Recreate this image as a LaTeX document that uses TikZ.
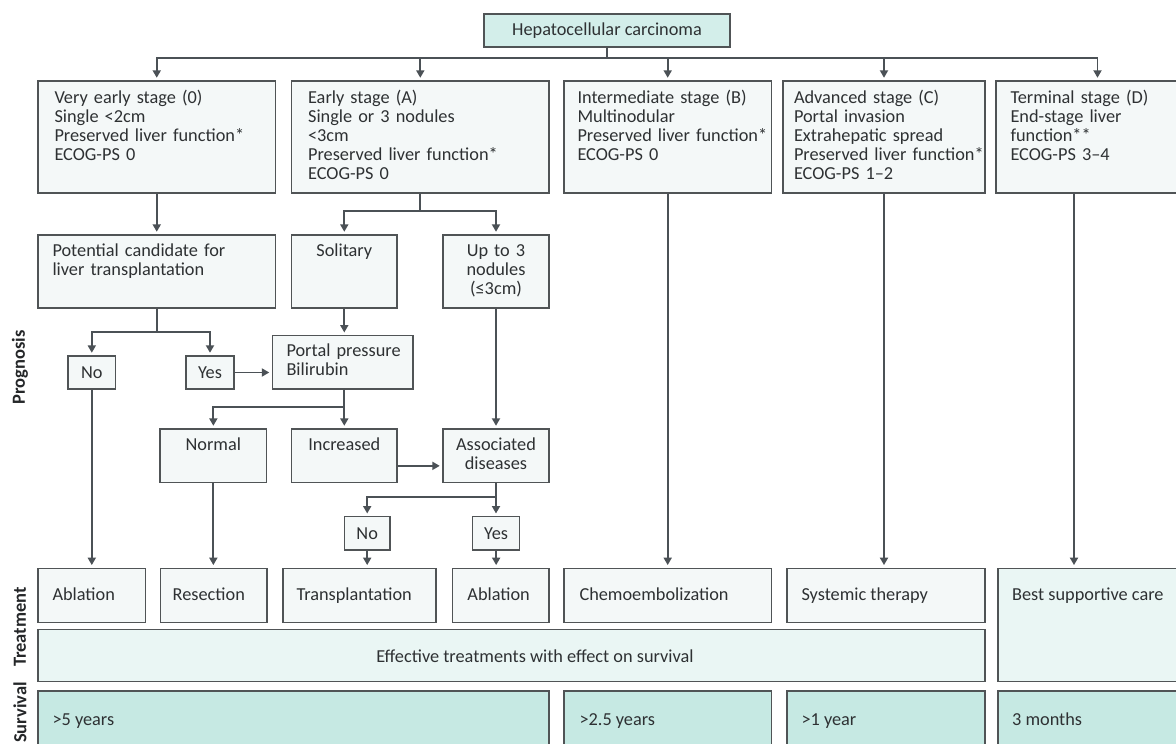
\documentclass[tikz,border=0pt]{standalone}
\usepackage{fontspec}
\setmainfont{Carlito}
\usetikzlibrary{arrows.meta,calc}
\definecolor{topfill}{HTML}{D3EEEA}
\definecolor{lightfill}{HTML}{F4F8F8}
\definecolor{efffill}{HTML}{EAF6F4}
\definecolor{survfill}{HTML}{C6E9E3}
\definecolor{bordercol}{HTML}{505456}
\definecolor{linecol}{HTML}{4B5156}
\definecolor{txtcol}{HTML}{2E3133}
\begin{document}
\begin{tikzpicture}[x=1pt,y=-1pt,
  bx/.style={draw=bordercol,line width=1.4pt,fill=lightfill,inner sep=0pt},
  tx/.style={inner sep=0pt,text=txtcol,font=\fontsize{18.3}{18.9}\selectfont},
  ml/.style={tx,text width=240pt,align=left,anchor=base west},
  mc/.style={tx,text width=120pt,align=center,anchor=base},
  lab/.style={inner sep=0pt,text=txtcol!80!black,font=\bfseries\fontsize{18.5}{20}\selectfont,rotate=90},
  ln/.style={draw=linecol,line width=1.9pt},
  arr/.style={ln,-{Triangle[length=7.5pt,width=8pt]},shorten >=2.5pt}]
\useasboundingbox (0,0) rectangle (1176,744);
\fill[white] (0,0) rectangle (1176,744);
\clip (0,0) rectangle (1176,744);

% top
\node[bx,fill=topfill,minimum width=246pt,minimum height=33pt] (hcc) at (607,30.5) {};
\node[tx] (thcc) at (hcc.center) {Hepatocellular carcinoma};

% stages
\node[bx,minimum width=237.5pt,minimum height=112pt] (s0) at (156.75,137) {};
\node[bx,minimum width=257.4pt,minimum height=112pt] (sA) at (420.3,137) {};
\node[bx,minimum width=207.4pt,minimum height=112pt] (sB) at (667.7,137) {};
\node[bx,minimum width=202pt,minimum height=112pt] (sC) at (884,137) {};
\node[bx,minimum width=203pt,minimum height=112pt] (sD) at (1097.5,137) {};
\node[ml] (t0) at ([xshift=17pt,yshift=-23.5pt]s0.north west) {Very early stage (0)\\Single <2cm\\Preserved liver function*\\ECOG-PS 0};
\node[ml] (tA) at ([xshift=17pt,yshift=-23.5pt]sA.north west) {Early stage (A)\\Single or 3 nodules\\<3cm\\Preserved liver function*\\ECOG-PS 0};
\node[ml] (tB) at ([xshift=14pt,yshift=-23.5pt]sB.north west) {Intermediate stage (B)\\Multinodular\\Preserved liver function*\\ECOG-PS 0};
\node[ml] (tC) at ([xshift=11.5pt,yshift=-23.5pt]sC.north west) {Advanced stage (C)\\Portal invasion\\Extrahepatic spread\\Preserved liver function*\\ECOG-PS 1–2};
\node[ml] (tD) at ([xshift=15pt,yshift=-23.5pt]sD.north west) {Terminal stage (D)\\End-stage liver\\function**\\ECOG-PS 3–4};

% second row
\node[bx,minimum width=237.5pt,minimum height=73pt] (cand) at (156.75,271.5) {};
\node[bx,minimum width=105.4pt,minimum height=73pt] (sol) at (344.3,271.5) {};
\node[bx,minimum width=106pt,minimum height=73pt] (up3) at (496,271.5) {};
\node[ml] (tcand) at ([xshift=15pt,yshift=-22pt]cand.north west) {Potential candidate for\\liver transplantation};
\node[mc] (tsol) at ([yshift=-22pt]sol.north) {Solitary};
\node[mc] (tup3) at ([yshift=-22pt]up3.north) {Up to 3\\nodules\\(≤3cm)};

% prognosis row
\node[bx,minimum width=47.6pt,minimum height=33pt] (no1) at (91.8,372.5) {};
\node[tx] (tno1) at (no1.center) {No};
\node[bx,minimum width=48pt,minimum height=33pt] (yes1) at (210,372.5) {};
\node[tx] (tyes1) at (yes1.center) {Yes};
\node[bx,minimum width=140.5pt,minimum height=53.3pt] (portal) at (342.75,362.35) {};
\node[ml] (tportal) at ([xshift=14.5pt,yshift=-21.5pt]portal.north west) {Portal pressure\\Bilirubin};

\node[bx,minimum width=106.7pt,minimum height=53.7pt] (normal) at (213.35,455.85) {};
\node[bx,minimum width=105.4pt,minimum height=53.7pt] (incr) at (344.3,455.85) {};
\node[bx,minimum width=106pt,minimum height=53.7pt] (assoc) at (496,455.85) {};
\node[mc] (tnormal) at ([yshift=-22.5pt]normal.north) {Normal};
\node[mc] (tincr) at ([yshift=-22.5pt]incr.north) {Increased};
\node[mc] (tassoc) at ([yshift=-22.5pt]assoc.north) {Associated\\diseases};

\node[bx,minimum width=45.6pt,minimum height=33.3pt] (no2) at (367.2,533.35) {};
\node[tx] (tno2) at (no2.center) {No};
\node[bx,minimum width=47.1pt,minimum height=33.3pt] (yes2) at (496.15,533.35) {};
\node[tx] (tyes2) at (yes2.center) {Yes};

% treatment row
\node[bx,minimum width=107.4pt,minimum height=54pt] (abl1) at (91.7,595.3) {};
\node[bx,minimum width=106.3pt,minimum height=54pt] (resec) at (213.85,595.3) {};
\node[bx,minimum width=153pt,minimum height=54pt] (trans) at (359.5,595.3) {};
\node[bx,minimum width=96.6pt,minimum height=54pt] (abl2) at (500.7,595.3) {};
\node[bx,minimum width=207.4pt,minimum height=54pt] (chemo) at (667.7,595.3) {};
\node[bx,minimum width=198pt,minimum height=54pt] (syst) at (886,595.3) {};
\node[bx,fill=efffill,minimum width=202pt,minimum height=113.4pt] (bsc) at (1099,625) {};
\node[tx,anchor=base west] (tabl1) at ([xshift=15pt,yshift=-32.5pt]abl1.north west) {Ablation};
\node[tx,anchor=base west] (tresec) at ([xshift=12.5pt,yshift=-32.5pt]resec.north west) {Resection};
\node[tx,anchor=base west] (ttrans) at ([xshift=14pt,yshift=-32.5pt]trans.north west) {Transplantation};
\node[tx,anchor=base west] (tabl2) at ([xshift=15.5pt,yshift=-32.5pt]abl2.north west) {Ablation};
\node[tx,anchor=base west] (tchemo) at ([xshift=16pt,yshift=-32.5pt]chemo.north west) {Chemoembolization};
\node[tx,anchor=base west] (tsyst) at ([xshift=15pt,yshift=-32.5pt]syst.north west) {Systemic therapy};
\node[tx,anchor=base west] (tbsc) at ([xshift=14.6pt,yshift=-32.5pt]bsc.north west) {Best supportive care};

\node[bx,fill=efffill,minimum width=947pt,minimum height=52.4pt] (eff) at (511.5,655.5) {};
\node[tx,anchor=base] (teff) at ([xshift=23.5pt,yshift=-33.5pt]eff.north) {Effective treatments with effect on survival};

% survival row
\node[bx,fill=survfill,minimum width=511pt,minimum height=69pt] (sv1) at (293.5,725.5) {};
\node[bx,fill=survfill,minimum width=207.4pt,minimum height=69pt] (sv2) at (667.7,725.5) {};
\node[bx,fill=survfill,minimum width=198pt,minimum height=69pt] (sv3) at (886,725.5) {};
\node[bx,fill=survfill,minimum width=202pt,minimum height=69pt] (sv4) at (1099,725.5) {};
\node[tx,anchor=base west] (tsv1) at ([xshift=15pt,yshift=-35pt]sv1.north west) {>5 years};
\node[tx,anchor=base west] (tsv2) at ([xshift=16pt,yshift=-35pt]sv2.north west) {>2.5 years};
\node[tx,anchor=base west] (tsv3) at ([xshift=15pt,yshift=-35pt]sv3.north west) {>1 year};
\node[tx,anchor=base west] (tsv4) at ([xshift=14.6pt,yshift=-35pt]sv4.north west) {3 months};

% side labels
\node[lab] (lprog) at (20,367.5) {Prognosis};
\node[lab] (ltreat) at (20,627) {Treatment};
\node[lab] (lsurv) at (20,712.5) {Survival};

% connectors
\foreach \t in {s0,sA,sB,sC,sD}
  \draw[arr] (hcc.south) -- ++(0,10.5) -| (\t.north);
\draw[arr] (s0.south) -- (cand.north);
\draw[arr] (sA.south) -- ++(0,17) -| (sol.north);
\draw[arr] (sA.south) -- ++(0,17) -| (up3.north);
\draw[arr] (cand.south) -- ++(0,23.7) -| (no1.north);
\draw[arr] (cand.south) -- ++(0,23.7) -| (yes1.north);
\draw[arr] (yes1.east) -- (yes1.east -| portal.west);
\draw[arr] (sol.south) -- (sol.south |- portal.north);
\draw[arr] (sol.south |- portal.south) -- ++(0,17) -| (normal.north);
\draw[arr] (sol.south |- portal.south) -- (incr.north);
\draw[arr] (up3.south) -- (assoc.north);
\coordinate (iA) at ([yshift=-10pt]incr.east);
\draw[arr] (iA) -- (iA -| assoc.west);
\draw[arr] (assoc.south) -- ++(0,13.3) -| (no2.north);
\draw[arr] (assoc.south) -- (assoc.south |- yes2.north);
\draw[arr] (no1.south) -- (no1.south |- abl1.north);
\draw[arr] (normal.south) -- (normal.south |- resec.north);
\draw[arr] (no2.south) -- (no2.south |- trans.north);
\draw[arr] (yes2.south) -- (yes2.south |- abl2.north);
\draw[arr] (sB.south) -- (sB.south |- chemo.north);
\draw[arr] (sC.south) -- (sC.south |- syst.north);
\coordinate (dD) at ([xshift=-23.5pt]sD.south);
\draw[arr] (dD) -- (dD |- bsc.north);
\end{tikzpicture}
\end{document}
